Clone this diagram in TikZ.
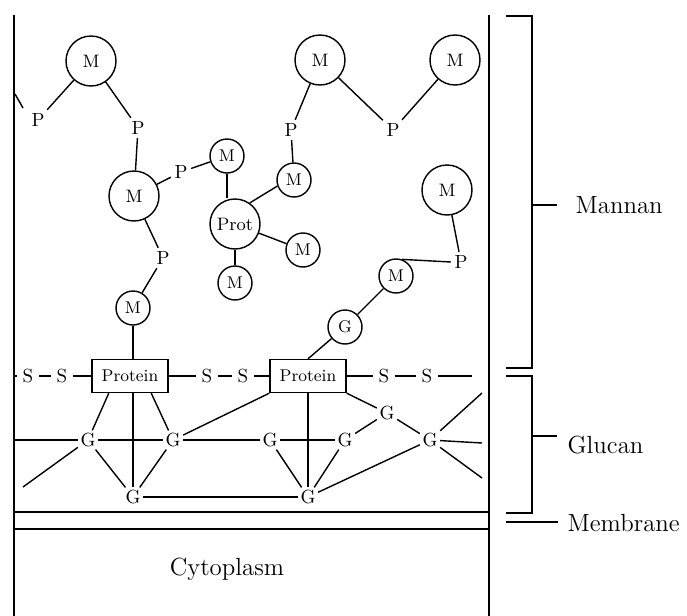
\documentclass[tikz,border=0pt]{standalone}
\usepackage{tikz}
\usetikzlibrary{positioning, calc}

\begin{document}
\begin{tikzpicture}[x=0.5pt, y=-0.5pt, line width=0.7pt,
    bigm/.style={circle, draw, minimum size=25pt, inner sep=0pt, font=\fontsize{9}{10}\selectfont},
    smallm/.style={circle, draw, minimum size=17pt, inner sep=0pt, font=\fontsize{8.5}{10}\selectfont},
    phos/.style={inner sep=1.5pt, font=\fontsize{9.5}{10}\selectfont},
    sulf/.style={inner sep=2.5pt, font=\fontsize{9.5}{10}\selectfont},
    glc/.style={inner sep=1pt, font=\fontsize{9.5}{10}\selectfont},
    protbox/.style={draw, minimum width=38pt, minimum height=16.5pt, inner sep=0pt, font=\fontsize{8.5}{10}\selectfont},
    lbl/.style={inner sep=0pt, font=\fontsize{12.4}{14}\selectfont}]
  \useasboundingbox (0,0) rectangle (687,616);

  % cell wall and membrane
  \draw[line width=1.2pt] (14,15) -- (14,616);
  \draw[line width=1.2pt] (489,15) -- (489,616);
  \draw (14,512) -- (489,512);
  \draw (14,529) -- (489,529);
  \node[lbl, anchor=base] (cyto) at (227,575) {Cytoplasm};

  % brackets
  \draw (506,16) -| (532,368) -- (506,368);
  \draw (532,205) -- (557,205);
  \draw (506,376) -| (532,513) -- (506,513);
  \draw (532,436) -- (557,436);
  \draw (506,522) -- (558,522);
  \node[lbl, anchor=base west] (mannan) at (575,213) {Mannan};
  \node[lbl, anchor=base west] (glucan) at (567,453) {Glucan};
  \node[lbl, anchor=base west] (membrane) at (567,531) {Membrane};

  % mannan chains
  \node[bigm] (m1) at (91,61) {M};
  \node[phos] (p1) at (38,120) {P};
  \node[phos] (p2) at (138,128) {P};
  \node[bigm] (m2) at (134,196) {M};
  \node[phos] (p3) at (181,172) {P};
  \node[smallm] (m3) at (227,156) {M};
  \node[bigm] (prot) at (235,224) {Prot};
  \node[smallm] (m4) at (294,180) {M};
  \node[phos] (p4) at (291,130) {P};
  \node[bigm] (m5) at (320,60) {M};
  \node[phos] (p5) at (393,130) {P};
  \node[bigm] (m6) at (455,60) {M};
  \node[smallm] (m7) at (303,250) {M};
  \node[smallm] (m8) at (235,283) {M};
  \node[bigm] (m9) at (447,190) {M};
  \node[phos] (p6) at (461,262) {P};
  \node[smallm] (m10) at (396,276) {M};
  \node[smallm] (gc) at (345,327) {G};
  \node[phos] (p7) at (163,258) {P};
  \node[smallm] (m11) at (133,308) {M};
  \coordinate (wP1) at (15,94);
  \coordinate (wP2) at (23,108);

  \draw (wP1) -- (wP2);
  \draw (m1) -- (p1);
  \draw (m1) -- (p2);
  \draw (p2) -- (m2);
  \draw (m2) -- (p3);
  \draw (p3) -- (m3);
  \draw (m3.south) -- (m3.south |- prot.north);
  \draw (prot.55) -- (m4.200);
  \draw (p4) -- (m4);
  \draw (m5) -- (p4);
  \draw (m5) -- (p5);
  \draw (p5) -- (m6);
  \draw (prot) -- (m7);
  \draw (prot) -- (m8);
  \draw (m9) -- (p6);
  \draw (p6.west) -- (m10.70);
  \draw (m10) -- (gc);
  \draw (m2) -- (p7);
  \draw (p7) -- (m11);

  % proteins and S-S bridges
  \node[protbox] (protA) at (130,376) {Protein};
  \node[protbox] (protB) at (308,376) {Protein};
  \node[sulf] (s1) at (28,376) {S};
  \node[sulf] (s2) at (62,376) {S};
  \node[sulf] (s3) at (207,376) {S};
  \node[sulf] (s4) at (243,376) {S};
  \node[sulf] (s5) at (384,376) {S};
  \node[sulf] (s6) at (427,376) {S};
  \coordinate (wS) at (14,376);
  \coordinate (eS) at (472,376);

  \draw (m11) -- (m11 |- protA.north);
  \draw (gc) -- (protB.north);
  \draw (wS) -- (s1);
  \draw (s1) -- (s2);
  \draw (s2) -- (protA);
  \draw (protA) -- (s3);
  \draw (s3) -- (s4);
  \draw (s4) -- (protB);
  \draw (protB) -- (s5);
  \draw (s5) -- (s6);
  \draw (s6) -- (eS);

  % glucan network
  \node[glc] (g1) at (88,440) {G};
  \node[glc] (g2) at (173,440) {G};
  \node[glc] (g3) at (270,440) {G};
  \node[glc] (g4) at (345,440) {G};
  \node[glc] (g5) at (387,413) {G};
  \node[glc] (g6) at (430,440) {G};
  \node[glc] (g7) at (133,497) {G};
  \node[glc] (g8) at (308,497) {G};
  \coordinate (wG) at (15,440);
  \coordinate (wL) at (23,487);
  \coordinate (eA) at (482,393);
  \coordinate (eB) at (482,443);
  \coordinate (eC) at (482,478);

  \draw (wG) -- (g1);
  \draw (g1) -- (g2);
  \draw (g2) -- (g3);
  \draw (g3) -- (g4);
  \draw (g4) -- (g5);
  \draw (g5) -- (g6);
  \draw (protB.south east) -- (g5);
  \draw (protB.south west) -- (g2);
  \draw (protA.219) -- (g1);
  \draw (protA.321) -- (g2);
  \draw (g7 |- protA.south) -- (g7);
  \draw (g8 |- protB.south) -- (g8);
  \draw (g1) -- (g7);
  \draw (g2) -- (g7);
  \draw (g1) -- (wL);
  \draw (g7) -- (g8);
  \draw (g3) -- (g8);
  \draw (g4) -- (g8);
  \draw (g6) -- (g8);
  \draw (g6) -- (eA);
  \draw (g6) -- (eB);
  \draw (g6) -- (eC);
\end{tikzpicture}
\end{document}
